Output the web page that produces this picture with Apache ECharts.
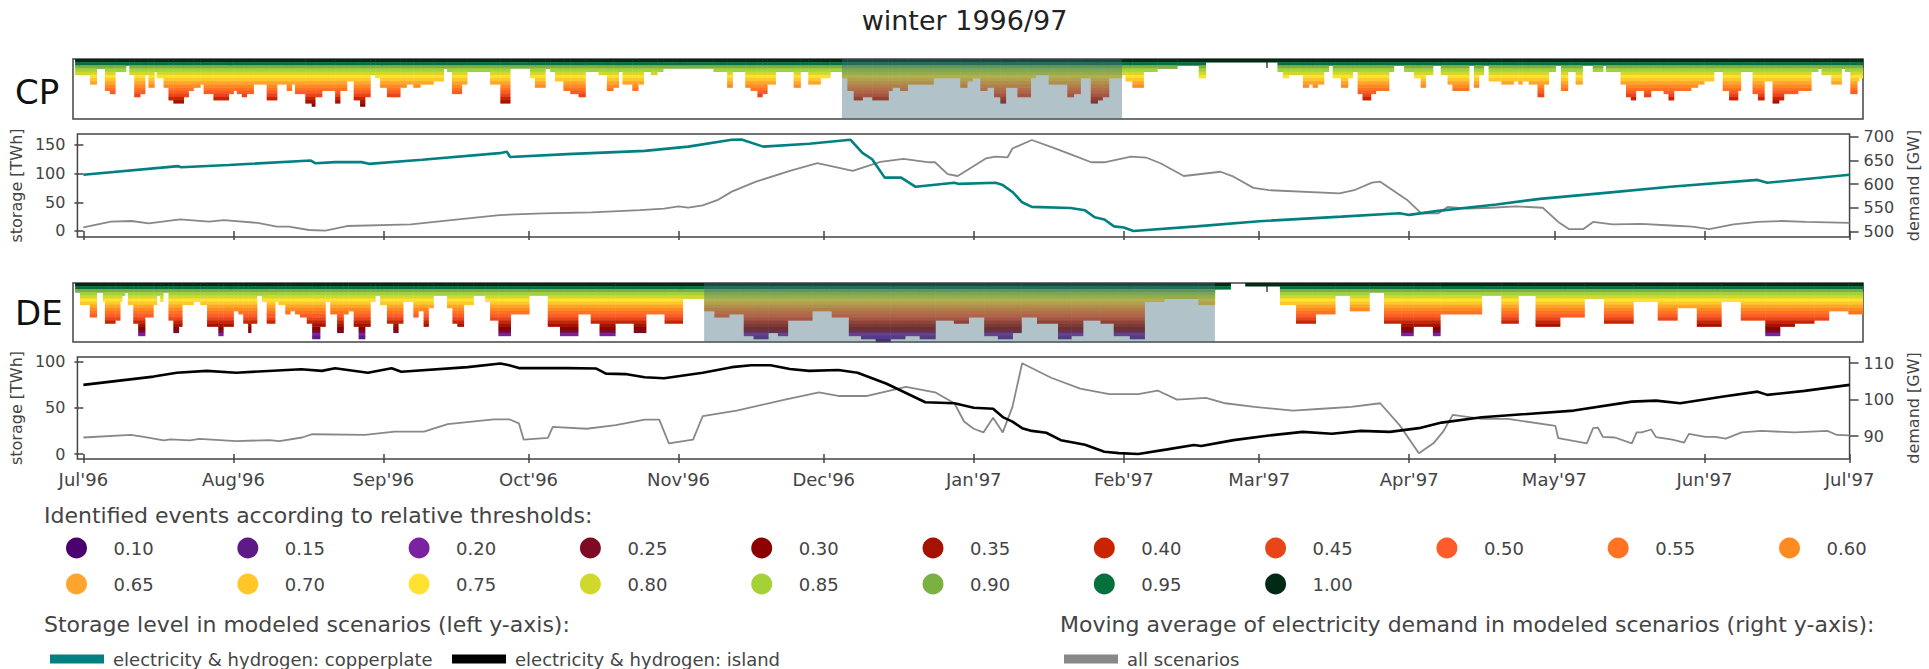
<!DOCTYPE html>
<html><head><meta charset="utf-8">
<script src="https://cdn.jsdelivr.net/npm/echarts@6/dist/echarts.min.js"></script>
<style>html,body{margin:0;padding:0;background:#fff}#c{width:1929px;height:669px}</style>
</head><body><div id="c"></div>
<script>
// ---------- data ----------
const monthDays = [0,31,62,92,123,153,184,215,243,274,304,335,365];
const monthLabels = ["Jul'96","Aug'96","Sep'96","Oct'96","Nov'96","Dec'96","Jan'97","Feb'97","Mar'97","Apr'97","May'97","Jun'97","Jul'97"];
const thresholds = [0.10,0.15,0.20,0.25,0.30,0.35,0.40,0.45,0.50,0.55,0.60,0.65,0.70,0.75,0.80,0.85,0.90,0.95,1.00];
const thresholdColors = ['#4a006e','#5e1a87','#7b22a0','#7e0a24','#8b0000','#a51300','#c92300','#e84618','#fe5a2a','#ff7322','#ff8b20','#ffa52e','#ffc72a','#ffe12f','#d0d82c','#a4d135','#7bb042','#06703c','#002a15'];
// identified events: [start day, lowest threshold reached] (segment lasts until next start)
const cpEvents = [[-0.8,.80],[2.25,.65],[3.6,.90],[5.3,.55],[6.3,.50],[7.4,.85],[9.6,.95],[10.3,.80],[11.3,.45],[12.5,.50],[13.5,.80],[14.2,.60],[15.4,.85],[15.9,.75],[17.3,.60],[18.3,.40],[19.3,.35],[21.4,.45],[22.4,.55],[23.4,.60],[24.8,.65],[25.5,.50],[27.5,.40],[30.6,.50],[31.6,.55],[32.3,.50],[33.3,.45],[34.3,.50],[35.7,.65],[38.4,.40],[40.5,.65],[42.5,.55],[43.5,.65],[44.2,.50],[46.3,.35],[47.6,.30],[48.3,.45],[49.7,.55],[52.4,.35],[53.4,.55],[54.8,.70],[56.2,.40],[57.5,.30],[58.5,.45],[59.6,.80],[60.6,.75],[61.6,.60],[63,.45],[65.7,.60],[67,.65],[68.4,.60],[69.8,.65],[72.5,.70],[74.6,.90],[75.3,.85],[76.3,.50],[78.3,.65],[79.4,.85],[84.1,.65],
[86.2,.35],[88.2,.90],[92.3,.75],[93.3,.60],[95.4,.90],[96.4,.85],[97.4,.70],[99.1,.55],[100.5,.50],[102.2,.45],[103.6,.85],[106.3,.80],[108,.55],[109.3,.60],[110.4,.85],[111.2,.65],[113.2,.55],[114.4,.65],[115.5,.85],[117,.80],[118.3,.85],[119.5,.90],[129.8,.85],[132.6,.60],[133.7,.85],[136.3,.60],[137.4,.55],[138.8,.45],[139.8,.50],[140.8,.65],[142.5,.85],[146.2,.60],[147.6,.85],[149.2,.65],[151.7,.75],[153.7,.85],[156.1,.75],[157.2,.55],[158.5,.40],[160.3,.45],[162.3,.40],[165.6,.55],[166.4,.60],[168,.55],[169.5,.65],[174.8,.75],[180.3,.60],[181.7,.70],[182.8,.75],[184.4,.55],[185.8,.60],[187.2,.45],
[188.5,.35],[189.6,.60],[192,.45],[194.7,.75],[195.7,.80],[198.4,.65],[202.2,.45],[203.5,.50],[204.9,.75],[207,.35],[208.4,.40],[209.4,.45],[210.7,.75],[213.4,.80],[214.1,.70],[215.5,.60],[217.8,.85],[220.6,.90],[224.7,.95],[229.1,.75],[230.5,1.00],[245.2,.85],[246.3,.75],[247.5,.80],[250.4,.60],[251.6,.65],[252.4,.60],[253.4,.65],[254.7,.85],[255.7,.95],[256.5,.75],[258.2,.60],[259.6,.75],[260.6,.85],[261.6,.50],[262.6,.40],[264.3,.50],[265.3,.55],[268,.85],[269,.95],[271.1,.85],[273.1,.75],[274.5,.60],[275.5,.80],[277,.95],[278.6,.80],[280,.65],
[281,.55],[284.4,.95],[285.4,.60],[286.4,.80],[287.4,.95],[288.4,.70],[291,.65],[293.5,.70],[294.5,.65],[295.3,.70],[296.6,.65],[298.4,.45],[299.7,.65],[300.7,.85],[302.1,.95],[303.2,.55],[304.6,.85],[306.2,.65],[307.6,.95],[309.7,.85],[311.8,.95],[312.4,.85],[315.4,.65],[316.5,.45],[317.5,.40],[318.5,.55],[320.2,.45],[321.6,.55],[324.2,.50],[325.2,.40],[326.3,.55],[329.8,.60],[331.2,.65],[332.5,.70],[334.5,.85],[336.3,.55],[337.6,.40],[339.4,.55],[340,.85],[342.4,.50],[343.5,.40],[344.8,.70],[346.5,.35],[347.8,.40],[348.8,.50],[351.7,.55],[354.4,.85],[355.8,.90],[356.5,.80],[358.5,.65],[360.6,.90],[361.3,.85],[362.4,.50],[363.8,.70],[364.2,.75],[365.2,null]];
const deEvents = [[-0.8,.90],[0.2,.70],[2.2,.50],[3.6,.90],[4.9,.75],[5.3,.40],[7.4,.45],[8.4,.75],[8.8,.85],[9.4,.90],[10,.70],[11.1,.40],[12.1,.20],[13.5,.50],[15.2,.70],[15.9,.85],[16.6,.75],[17.2,.90],[18.3,.45],[19.3,.25],[20.4,.35],[21.1,.70],[23.4,.75],[24.8,.70],[26.2,.35],[28.5,.20],[29.5,.35],[31.6,.60],[32.6,.55],[33.6,.40],[34.6,.25],[35.2,.40],[36.4,.85],[37.4,.75],[38.4,.40],[40.1,.75],[40.8,.70],[42.2,.55],[43.2,.60],[44.2,.55],[45.2,.50],[46.6,.40],[47.7,.15],[49.3,.35],[50.4,.75],[51.4,.55],[52.8,.25],[54.1,.55],[55.1,.60],[56.2,.35],[57.2,.15],[58.5,.35],[59.6,.75],[60.6,.85],[61.6,.70],[63,.40],[64.3,.25],[65.3,.40],[66.3,.75],[68.4,.50],[69.4,.60],[70.5,.35],[71.5,.65],[72.5,.85],[75.3,.65],[76.4,.40],[77.4,.35],[78.7,.70],[80.7,.85],[83.1,.75],[84.1,.45],
[85.8,.20],[88.3,.55],[92.1,.85],[95.9,.35],[98.4,.20],[102.1,.55],[104.7,.40],[106.5,.20],[109.7,.40],[113.5,.25],[116,.55],[119.8,.40],[123.5,.80],
[127.9,.60],[130,.50],[133,.55],[136,.20],[138,.15],[141,.25],[143,.20],[145,.45],[150,.60],[154,.50],[157.5,.20],[160,.15],[163,.10],[166,.15],[169,.20],[172,.15],[175.2,.45],[179,.40],[182,.50],[185.2,.20],[188,.15],[191,.25],[192.8,.50],[196,.40],[200.3,.15],[203,.20],[205.4,.45],[209,.40],[211.7,.20],[215,.15],[218,.75],[222,.80],[229,.70],
[232.4,.95],[235.6,null],[238.6,1.00],[245.7,.70],[249,.40],[253,.55],[257,.85],[260,.60],[264,.90],[267,.40],[270.5,.20],[273,.35],[277,.20],[278.5,.55],[287,.85],[291,.40],[294.5,.85],[298,.35],[303,.50],[308,.80],[312,.40],[318,.75],[323,.45],[327,.65],[331,.35],[336,.75],[340,.45],[345,.20],[348,.35],[351,.40],[355,.45],[358,.60],[362,.55],[365.2,null]];
// highlighted periods [start day, end day]
const cpShade = [[156.1, 213.4]];
const deShade = [[127.9, 232.4]];
// storage level [day, TWh]
const cpStorage = [[0,98],[19.6,113],[20.2,111],[30,115],[47,122.7],[48,118],[52,120],[57.5,120],[59,117],[70,124],[86,135.6],[87.5,138],[88.2,129],[100,134],[116,139.6],[125,147],[134,159],[136,159.5],[140.5,147],[150,152],[158.5,159],[161,136],[163,125],[165.6,93],[169,93],[172,77],[180,84],[181,82],[188.5,84],[190,80],[192,68],[194,50],[196,42],[204,40],[207,36],[209,24],[211,20],[213,8],[215,6],[217,0],[230,8],[243,17],[260,25],[272,31],[274,28],[280,35],[292,46],[301,56],[314,66],[328,77],[346,89],[348,84],[365,98]];
const cpDemand = [[0,508.7],[5.7,520.5],[10,522],[13.5,517],[20,525.5],[26,520.5],[29,524],[36,518],[40,510],[42.5,510],[46.6,503],[50,501.5],[54.5,511.4],[67.7,515],[76,524],[86,534.6],[95,538],[105,540],[115,545],[120,548],[123,553],[125,550],[128,555],[131,566],[134,584],[139,605],[146,628],[151.7,644],[159,628],[164.7,647],[169.5,653],[174.8,646],[176,646],[178.6,621],[180.7,617],[186.5,654],[188.5,658],[191,656.5],[192,675],[196,693],[200.8,675.5],[205,659],[208.3,646],[211,646],[216.5,658],[219.6,656],[222.6,644],[227.4,617],[235,626],[237.7,615.5],[241.8,592],[245,587],[259.6,580.5],[262.6,587],[266.3,603],[268,605],[273.5,567],[276.5,538],[280,538],[282,552],[286,548],[291,550],[296,553],[301.6,550],[304.8,520],[307,505],[310,505],[312,520],[316,515],[322,516],[329,512],[332.5,510],[336,505],[341,515],[346,520],[351,522],[356,520],[365,518]];
const deStorage = [[0,74.8],[14.5,83.8],[19.3,88],[25.5,90],[31.6,88],[45,91.7],[49.3,90],[52,92.8],[58.8,88],[63.7,92.8],[65.7,89],[79.4,94],[86.2,98],[88,96],[90,93],[100,93],[106,92.5],[108,87],[112,86.5],[116,83],[120,82],[124,85],[128,88],[134,94],[138,96],[142,96],[146,92],[150,90],[156,91],[160,88],[166,76],[170,66],[174,56],[180,55],[184,50],[188,49],[190,40],[192,35],[194,28],[196,25],[199,23],[202,15],[204,13],[207,10],[211,2.5],[214,1],[218,0],[224,5],[229.5,9.7],[231,8.7],[237.7,15],[245,20],[252,24],[258,22],[264,25],[270,24],[276,28],[280.7,34],[289,39.8],[308,47],[320,56.7],[325,57.8],[330,55],[338.6,62],[346,67.5],[348,64],[355.7,68.3],[365,74.8]];
const deDemand = [[0,89.6],[9.8,90.3],[12.5,89.8],[16.6,88.8],[18,89.1],[22,88.8],[24,89.2],[31.6,88.6],[38.4,88.9],[40.5,88.6],[45.2,89.6],[47.3,90.5],[58.2,90.3],[64.3,91.2],[70.4,91.2],[72.5,92.1],[75.3,93.3],[84.8,94.6],[88,94.6],[90,93.5],[91,89],[96,89.5],[97,92.5],[104,92],[110,93],[116,94.5],[119,94.5],[121,88],[126,89],[128,95.5],[135,97],[145,100],[152,102],[156,101],[162,101],[170,103.5],[176,102],[180,99],[182,94],[184,92],[186,91],[188,95],[190,91],[192,98],[194,110],[200,106],[206,103],[212,101.5],[218,101.5],[222,102.5],[226,100],[232,100.5],[236,99],[242,98],[250,97],[256,97.5],[262,98],[268,99],[272,93],[276,85.3],[279,88],[281,91.2],[283,95.8],[289,94.7],[294.4,94.7],[304.2,92.8],[304.8,89.4],[310.7,88],[312,92.2],[313,92.3],[314,89.8],[316.5,89.6],[320,88],[321,91],[322,91],[324,91.8],[325,89.7],[328.4,89],[330.8,88.2],[331.8,90.6],[335.2,89.8],[337.3,89.8],[339.4,89.3],[342.7,91],[346.8,91.4],[353.6,91],[360.4,91.4],[362.4,90.3],[365,90.2]];
const cpStorageTicks = [0,50,100,150];
const cpDemandTicks = [500,550,600,650,700];
const deStorageTicks = [0,50,100];
const deDemandTicks = [90,100,110];

// ---------- helpers ----------
const FONT = 'DejaVu Sans';
const AX = '#444';
function segs(ev){ const out=[]; for(let i=0;i<ev.length-1;i++){ if(ev[i][1]!=null) out.push([ev[i][0], ev[i+1][0], ev[i][1]]); } return out; }
function heatItem(params, api){
  const x0=api.value(0), x1=api.value(1), lvl=api.value(2);
  const idx = thresholds.findIndex(t=>Math.abs(t-lvl)<1e-6);
  const n = thresholds.length - idx;
  const ch=[];
  for(let r=0;r<n;r++){
    const p0=api.coord([x0,r]), p1=api.coord([x1,r+1]);
    ch.push({type:'rect',shape:{x:p0[0],y:p0[1],width:p1[0]-p0[0]+0.4,height:p1[1]-p0[1]+0.4},style:{fill:thresholdColors[thresholds.length-1-r]}});
  }
  return {type:'group',children:ch};
}
function shadeItem(params, api){
  const p0=api.coord([api.value(0),0]), p1=api.coord([api.value(1),thresholds.length]);
  return {type:'rect',shape:{x:p0[0],y:p0[1],width:p1[0]-p0[0],height:p1[1]-p0[1]},style:{fill:'rgba(70,110,125,0.42)'}};
}
const grids = [
  {left:73, width:1790, top:59, height:60},
  {left:73, width:1790, top:134, height:103},
  {left:73, width:1790, top:283, height:59},
  {left:73, width:1790, top:357, height:102}
].map(g=>Object.assign(g,{show:true,borderColor:AX,borderWidth:1.5,backgroundColor:'transparent'}));
function xAx(i, labels){
  return {type:'value', gridIndex:i, min:-1.23, max:365, splitLine:{show:false},
    axisLine:{show:false},
    axisTick:{show:true, inside:false, length:9, lineStyle:{color:AX,width:1.5}, customValues:monthDays},
    axisLabel:{show:labels, customValues:monthDays, margin:11, color:AX, fontFamily:FONT, fontSize:18,
      formatter:(v)=>monthLabels[monthDays.indexOf(v)]}};
}
function heatY(i){ return {type:'value', gridIndex:i, min:0, max:thresholds.length, inverse:true, show:false}; }
function lineY(i, pos, min, max, ticks, name, gap){
  return {type:'value', gridIndex:i, position:pos, min:min, max:max, splitLine:{show:false},
    axisLine:{show:false},
    axisTick:{show:true, inside:false, length:9, lineStyle:{color:AX,width:1.5}, customValues:ticks},
    axisLabel:{customValues:ticks, margin:pos==='left'?12:14, color:AX, fontFamily:FONT, fontSize:16},
    name:name, nameLocation:'middle', nameRotate:90, nameGap:gap,
    nameTextStyle:{color:AX, fontFamily:FONT, fontSize:16}};
}
// legend graphics
const g = [];
g.push({type:'text', left:'center', top:7, style:{text:'winter 1996/97', font:'27px "DejaVu Sans"', fill:'#222'}});
g.push({type:'text', x:15, y:92, style:{text:'CP', font:'34px "DejaVu Sans"', fill:'#111', textVerticalAlign:'middle'}});
g.push({type:'text', x:15, y:313, style:{text:'DE', font:'34px "DejaVu Sans"', fill:'#111', textVerticalAlign:'middle'}});
g.push({type:'text', x:44, y:515, style:{text:'Identified events according to relative thresholds:', font:'22px "DejaVu Sans"', fill:AX, textVerticalAlign:'middle'}});
thresholds.forEach((t,i)=>{
  const col = i<11 ? i : i-11, row = i<11 ? 0 : 1;
  const cx = 76.5 + 171.3*col, cy = 548 + 36*row;
  g.push({type:'circle', shape:{cx:cx, cy:cy, r:10.5}, style:{fill:thresholdColors[i]}});
  g.push({type:'text', x:cx+37, y:cy, style:{text:t.toFixed(2), font:'18px "DejaVu Sans"', fill:AX, textVerticalAlign:'middle'}});
});
g.push({type:'text', x:44, y:624, style:{text:'Storage level in modeled scenarios (left y-axis):', font:'22px "DejaVu Sans"', fill:AX, textVerticalAlign:'middle'}});
g.push({type:'text', x:1060, y:624, style:{text:'Moving average of electricity demand in modeled scenarios (right y-axis):', font:'22px "DejaVu Sans"', fill:AX, textVerticalAlign:'middle'}});
const lineLegend = [['electricity & hydrogen: copperplate','#008080',50],['electricity & hydrogen: island','#000000',452],['all scenarios','#888888',1064]];
lineLegend.forEach(([name,color,x])=>{
  g.push({type:'rect', shape:{x:x, y:654.5, width:54, height:9}, style:{fill:color}});
  g.push({type:'text', x:x+63, y:659, style:{text:name, font:'18px "DejaVu Sans"', fill:AX, textVerticalAlign:'middle'}});
});

const option = {
  backgroundColor:'#fff',
  animation:false,
  grid: grids,
  xAxis: [xAx(0,false), xAx(1,false), xAx(2,false), xAx(3,true)],
  yAxis: [heatY(0),
    lineY(1,'left',-10.5,169,cpStorageTicks,'storage [TWh]',41),
    lineY(1,'right',488.2,705.7,cpDemandTicks,'demand [GW]',47),
    heatY(2),
    lineY(3,'left',-5.4,105,deStorageTicks,'storage [TWh]',41),
    lineY(3,'right',83.7,111.7,deDemandTicks,'demand [GW]',47)],
  series: [
    {type:'custom', name:'CP events', xAxisIndex:0, yAxisIndex:0, data:segs(cpEvents), renderItem:heatItem, clip:true, encode:{x:[0,1]}, z:2},
    {type:'custom', name:'CP period', xAxisIndex:0, yAxisIndex:0, data:cpShade, renderItem:shadeItem, clip:true, encode:{x:[0,1]}, z:3},
    {type:'line', name:'all scenarios', xAxisIndex:1, yAxisIndex:2, data:cpDemand, showSymbol:false, lineStyle:{color:'#888', width:1.8}, z:3},
    {type:'line', name:'electricity & hydrogen: copperplate', xAxisIndex:1, yAxisIndex:1, data:cpStorage, showSymbol:false, lineStyle:{color:'#008080', width:2.6}, z:4},
    {type:'custom', name:'DE events', xAxisIndex:2, yAxisIndex:3, data:segs(deEvents), renderItem:heatItem, clip:true, encode:{x:[0,1]}, z:2},
    {type:'custom', name:'DE period', xAxisIndex:2, yAxisIndex:3, data:deShade, renderItem:shadeItem, clip:true, encode:{x:[0,1]}, z:3},
    {type:'line', name:'all scenarios', xAxisIndex:3, yAxisIndex:5, data:deDemand, showSymbol:false, lineStyle:{color:'#888', width:1.8}, z:3},
    {type:'line', name:'electricity & hydrogen: island', xAxisIndex:3, yAxisIndex:4, data:deStorage, showSymbol:false, lineStyle:{color:'#000', width:2.6}, z:4}
  ],
  graphic: g
};
const chart = echarts.init(document.getElementById('c'), null, {renderer:'svg'});
chart.setOption(option);
</script></body></html>
